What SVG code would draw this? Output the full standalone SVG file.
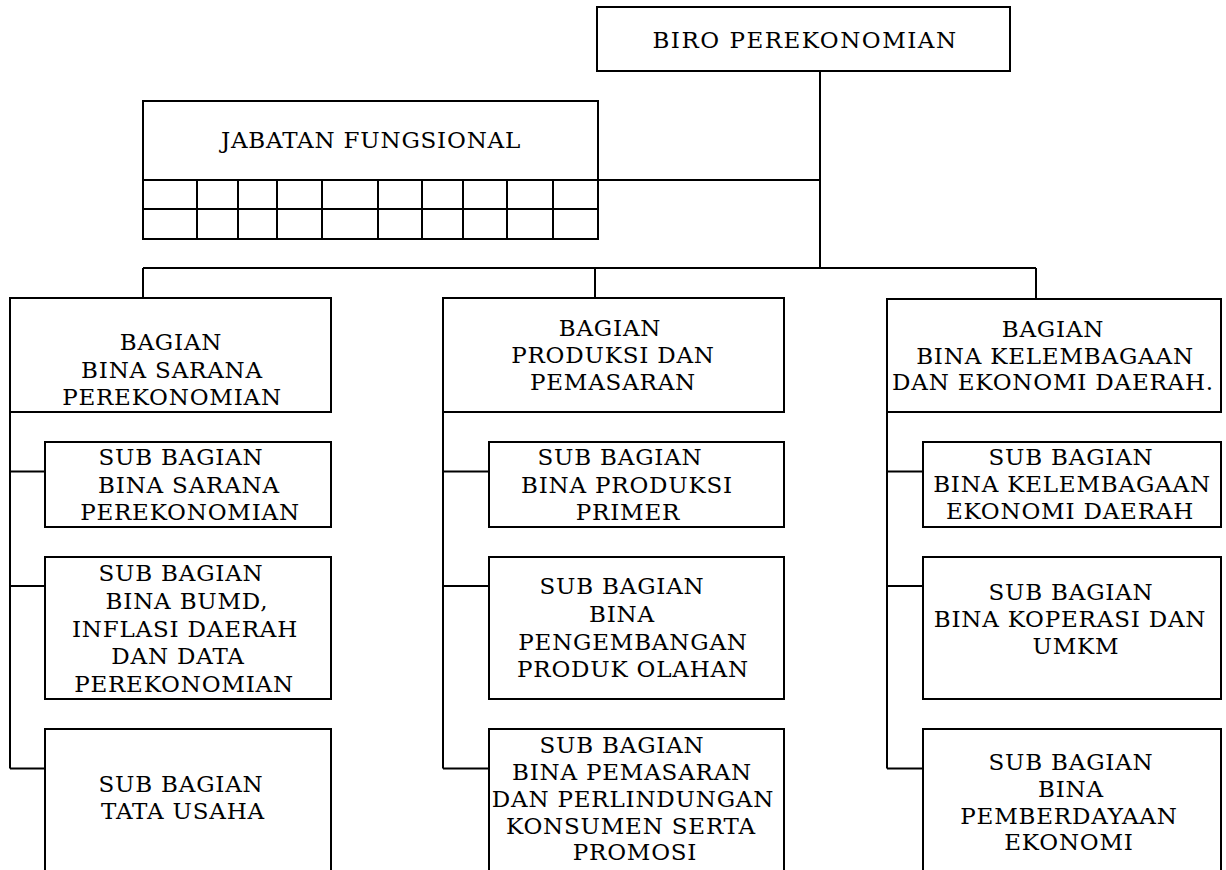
<svg xmlns="http://www.w3.org/2000/svg" width="1226" height="870" viewBox="0 0 1226 870">
<style>
.box{fill:#fff;stroke:#000;stroke-width:2}
.ln{fill:none;stroke:#000;stroke-width:2}
text{font-family:"DejaVu Serif","Liberation Serif",serif;font-size:23px;letter-spacing:0.8px;fill:#000;text-anchor:middle}
.title{letter-spacing:1.5px}
</style>
<rect width="1226" height="870" fill="#fff"/>
<g id="connectors">
<path class="ln" d="M820,71V268M598,180H820M143,268H1036M143,268V298M595,268V298M1036,268V299"/>
<path class="ln" d="M10,412V768.5M10,471.5H45M10,586H45M10,768.5H45"/>
<path class="ln" d="M443,412V768.5M443,471.5H489M443,586H489M443,768.5H489"/>
<path class="ln" d="M887,412V768.5M887,471.5H923M887,586H923M887,768.5H923"/>
</g>
<g id="biro">
<rect class="box" x="597" y="7" width="413" height="64"/>
<text class="title" x="805" y="48">BIRO PEREKONOMIAN</text>
</g>
<g id="jabatan">
<rect class="box" x="143" y="101" width="455" height="138"/>
<path class="ln" d="M143,180H598M143,209H598M197,180V239M238,180V239M277,180V239M322,180V239M378,180V239M422,180V239M463,180V239M507,180V239M553,180V239"/>
<text x="371" y="148">JABATAN FUNGSIONAL</text>
</g>
<g id="bagian-sarana">
<rect class="box" x="10" y="298" width="321" height="114"/>
<text x="171" y="350">BAGIAN</text>
<text x="172" y="377.5">BINA SARANA</text>
<text x="172" y="405">PEREKONOMIAN</text>
</g>
<g id="sub-sarana">
<rect class="box" x="45" y="442" width="286" height="85"/>
<text x="181" y="465">SUB BAGIAN</text>
<text x="189" y="492.5">BINA SARANA</text>
<text x="190" y="520">PEREKONOMIAN</text>
</g>
<g id="sub-bumd">
<rect class="box" x="45" y="557" width="286" height="142"/>
<text x="181" y="581">SUB BAGIAN</text>
<text x="187" y="608.5">BINA BUMD,</text>
<text x="185" y="636.5">INFLASI DAERAH</text>
<text x="178" y="664">DAN DATA</text>
<text x="184" y="691.5">PEREKONOMIAN</text>
</g>
<g id="sub-tata-usaha">
<rect class="box" x="45" y="729" width="286" height="170"/>
<text x="181" y="791.5">SUB BAGIAN</text>
<text x="183" y="818.5">TATA USAHA</text>
</g>
<g id="bagian-produksi">
<rect class="box" x="443" y="298" width="341" height="114"/>
<text x="610" y="336">BAGIAN</text>
<text x="613" y="363">PRODUKSI DAN</text>
<text x="613" y="390">PEMASARAN</text>
</g>
<g id="sub-produksi-primer">
<rect class="box" x="489" y="442" width="295" height="85"/>
<text x="620" y="465">SUB BAGIAN</text>
<text x="627" y="492.5">BINA PRODUKSI</text>
<text x="628" y="520">PRIMER</text>
</g>
<g id="sub-produk-olahan">
<rect class="box" x="489" y="557" width="295" height="142"/>
<text x="622" y="593.5">SUB BAGIAN</text>
<text x="622" y="621.5">BINA</text>
<text x="633" y="649.5">PENGEMBANGAN</text>
<text x="633" y="677">PRODUK OLAHAN</text>
</g>
<g id="sub-pemasaran">
<rect class="box" x="489" y="729" width="295" height="170"/>
<text x="622" y="753">SUB BAGIAN</text>
<text x="632" y="780">BINA PEMASARAN</text>
<text x="633" y="807">DAN PERLINDUNGAN</text>
<text x="631" y="833.5">KONSUMEN SERTA</text>
<text x="635" y="860">PROMOSI</text>
</g>
<g id="bagian-kelembagaan">
<rect class="box" x="887" y="299" width="334" height="113"/>
<text x="1053" y="336.5">BAGIAN</text>
<text x="1055" y="363.5">BINA KELEMBAGAAN</text>
<text x="1053" y="390">DAN EKONOMI DAERAH.</text>
</g>
<g id="sub-kelembagaan">
<rect class="box" x="923" y="442" width="298" height="85"/>
<text x="1071" y="465">SUB BAGIAN</text>
<text x="1072" y="491.5">BINA KELEMBAGAAN</text>
<text x="1070" y="518.5">EKONOMI DAERAH</text>
</g>
<g id="sub-koperasi">
<rect class="box" x="923" y="557" width="298" height="142"/>
<text x="1071" y="600">SUB BAGIAN</text>
<text x="1070" y="626.5">BINA KOPERASI DAN</text>
<text x="1076" y="653.5">UMKM</text>
</g>
<g id="sub-pemberdayaan">
<rect class="box" x="923" y="729" width="298" height="170"/>
<text x="1071" y="770">SUB BAGIAN</text>
<text x="1071" y="796.5">BINA</text>
<text x="1069" y="823.5">PEMBERDAYAAN</text>
<text x="1069" y="850">EKONOMI</text>
</g>
</svg>
